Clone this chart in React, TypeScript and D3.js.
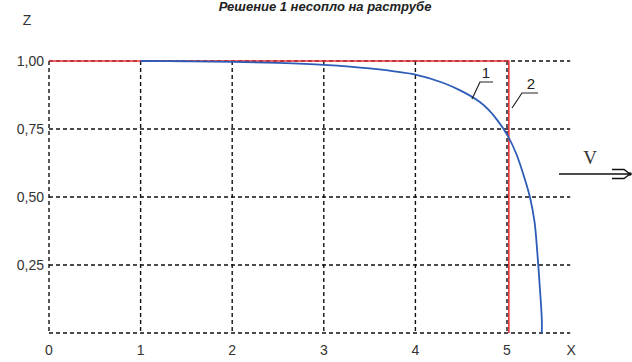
import * as d3 from "d3";

const W = 632;
const H = 362;

const title = "Решение 1 несопло на раструбе";
const xTicks = [0, 1, 2, 3, 4, 5];
const zTicks = [0.25, 0.5, 0.75, 1.0];
const zTickLabels = ["0,25", "0,50", "0,75", "1,00"];

// curve 1 (blue): real contour
const curveX = [1, 1.5, 2, 2.5, 3, 3.5, 4, 4.3, 4.5, 4.7, 4.8, 4.9, 5.0, 5.1, 5.2, 5.25, 5.3, 5.33, 5.36, 5.38, 5.38];
const curveZ = [1, 0.999, 0.997, 0.993, 0.986, 0.973, 0.95, 0.92, 0.89, 0.85, 0.82, 0.78, 0.73, 0.66, 0.56, 0.5, 0.41, 0.3, 0.16, 0.05, 0];

// curve 2 (red): rectangular contour
const rectX = [0, 5.02, 5.02];
const rectZ = [1, 1, 0];

const x = d3.scaleLinear().domain([0, 5]).range([49, 507]);
const z = d3.scaleLinear().domain([0, 1]).range([333, 61]);
const xEnd = 5.69;

const line = d3
  .line<[number, number]>()
  .x((d) => x(d[0]))
  .y((d) => z(d[1]));

const font = "'Liberation Sans Narrow', 'Liberation Sans', Arial, sans-serif";

export default function App() {
  const blue = curveX.map((v, i) => [v, curveZ[i]] as [number, number]);
  const red = rectX.map((v, i) => [v, rectZ[i]] as [number, number]);
  const smooth = line.curve(d3.curveCatmullRom.alpha(0.5));
  return (
    <svg
      width={W}
      height={H}
      style={{ position: "absolute", left: 0, top: 0, background: "#fff" }}
    >
      <text
        x={325}
        y={11}
        textAnchor="middle"
        fontFamily="'Liberation Sans', Arial, sans-serif"
        fontWeight="bold"
        fontStyle="italic"
        fontSize={13}
        fill="#222"
      >
        {title}
      </text>

      {/* grid */}
      <g stroke="#111" strokeWidth={1.4} strokeDasharray="4,3" fill="none">
        {[0, ...zTicks].map((t) => (
          <line key={"h" + t} x1={x(0)} x2={x(xEnd)} y1={z(t)} y2={z(t)} />
        ))}
        {xTicks.map((t) => (
          <line key={"v" + t} x1={x(t)} x2={x(t)} y1={z(1)} y2={z(0)} />
        ))}
      </g>

      <path d={d3.line<[number, number]>().x((d) => x(d[0])).y((d) => z(d[1]))(red) ?? ""} fill="none" stroke="#e8333a" strokeWidth={1.6} />
      <path d={smooth(blue) ?? ""} fill="none" stroke="#2d5cb8" strokeWidth={1.8} />

      {/* tick labels */}
      <g fontFamily={font} fontSize={14} fill="#333">
        {zTicks.map((t, i) => (
          <text key={t} x={44} y={z(t) + 5} textAnchor="end">
            {zTickLabels[i]}
          </text>
        ))}
        {xTicks.map((t) => (
          <text key={t} x={x(t)} y={355} textAnchor="middle">
            {t}
          </text>
        ))}
        <text x={x(xEnd) + 1} y={355} textAnchor="middle">X</text>
        <text x={27} y={25} textAnchor="middle">Z</text>
      </g>

      {/* leaders */}
      <g stroke="#222" strokeWidth={1.2} fill="none">
        <path d="M472,99 L480,82 L493,82" />
        <path d="M512,108 L522,93 L538,93" />
      </g>
      <g fontFamily={font} fontSize={15} fill="#222">
        <text x={486} y={78} textAnchor="middle">1</text>
        <text x={531} y={89} textAnchor="middle">2</text>
      </g>

      {/* flow direction */}
      <text
        x={590}
        y={164}
        textAnchor="middle"
        fontFamily="'Liberation Serif', 'Times New Roman', serif"
        fontSize={19}
        fill="#333"
      >
        V
      </text>
      <g stroke="#111" strokeWidth={1.3} fill="none">
        <line x1={559} x2={630} y1={174} y2={174} />
        <path d="M612,169.5 L624,169.5 L630,174 L624,178.5 L612,178.5" />
      </g>
      <circle cx={630} cy={174} r={1.8} fill="#111" />
    </svg>
  );
}
